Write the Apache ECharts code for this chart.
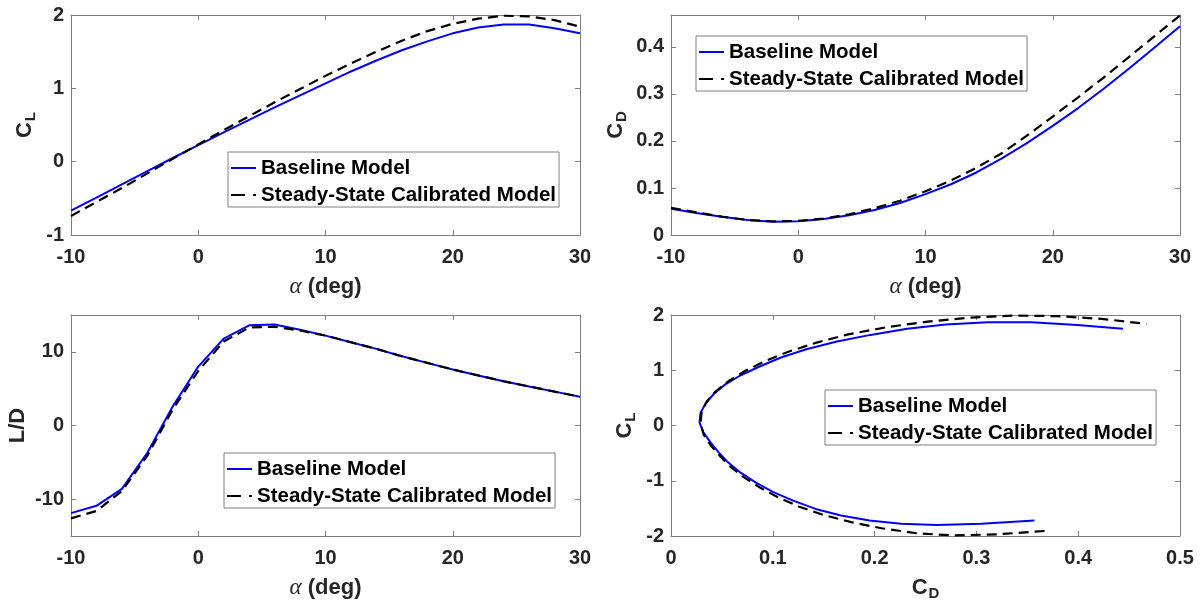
<!DOCTYPE html>
<html>
<head>
<meta charset="utf-8">
<script src="https://cdn.jsdelivr.net/npm/echarts@6/dist/echarts.min.js"></script>
<style>
html,body{margin:0;padding:0;background:#fff;}
#main{width:1202px;height:607px;}
</style>
</head>
<body>
<div id="main"></div>
<script>
// ---- data ----
const alpha = [-10,-8,-6,-4,-2,0,2,4,6,8,10,12,14,16,18,20,22,24,26,28,30];
const clBase = [-0.667,-0.49,-0.31,-0.13,0.05,0.227,0.40,0.57,0.74,0.905,1.068,1.23,1.38,1.52,1.64,1.75,1.83,1.87,1.87,1.82,1.75];
const clCal  = [-0.74,-0.55,-0.36,-0.16,0.04,0.235,0.43,0.62,0.81,0.99,1.17,1.34,1.50,1.65,1.78,1.88,1.95,1.99,1.98,1.93,1.84];
const cdBase = [0.056,0.047,0.039,0.032,0.028,0.029,0.034,0.042,0.053,0.068,0.087,0.108,0.133,0.163,0.196,0.232,0.270,0.311,0.354,0.399,0.444];
const cdCal  = [0.058,0.048,0.039,0.032,0.029,0.030,0.035,0.044,0.057,0.073,0.093,0.116,0.143,0.174,0.212,0.252,0.293,0.335,0.379,0.423,0.467];
const ldBase = [-11.9,-10.9,-8.6,-3.7,2.6,8.0,11.8,13.6,13.7,13.0,12.2,11.3,10.4,9.4,8.5,7.6,6.8,6.0,5.3,4.6,3.9];
const ldCal  = [-12.6,-11.6,-8.9,-4.1,2.2,7.4,11.4,13.3,13.4,12.9,12.2,11.3,10.4,9.4,8.5,7.6,6.8,6.0,5.3,4.6,3.9];
// lower (negative-lift) branch of the drag polar, going outward from alpha = -10
const polarLowCdBase = [0.068,0.083,0.100,0.120,0.142,0.167,0.195,0.226,0.261,0.305,0.357];
const polarLowClBase = [-0.85,-1.03,-1.20,-1.36,-1.51,-1.63,-1.72,-1.78,-1.80,-1.78,-1.72];
const polarLowCdCal  = [0.071,0.087,0.105,0.126,0.150,0.177,0.207,0.241,0.277,0.320,0.367];
const polarLowClCal  = [-0.93,-1.12,-1.30,-1.47,-1.62,-1.75,-1.86,-1.95,-1.99,-1.97,-1.91];
const seriesNames = ['Baseline Model','Steady-State Calibrated Model'];
// axis limits and tick values for the four panels
const xLimits = [[-10,30],[-10,30],[-10,30],[0,0.5]];
const xTicks  = [[-10,0,10,20,30],[-10,0,10,20,30],[-10,0,10,20,30],[0,0.1,0.2,0.3,0.4,0.5]];
const yLimits = [[-1,2],[0,0.468],[-15,15],[-2,2]];
const yTicks  = [[-1,0,1,2],[0,0.1,0.2,0.3,0.4],[-10,0,10],[-2,-1,0,1,2]];

// ---- chart ----
const FONT = "'Liberation Sans', Arial, Helvetica, sans-serif";
const AXC = '#7f7f7f';
const TXT = '#262626';
const grids = [
  {left:71, top:15, width:509, height:220},
  {left:671, top:15, width:509, height:220},
  {left:71, top:315, width:509, height:221},
  {left:671, top:315, width:509, height:221}
];

const alphaName = {
  name:'{a|α}{b| (deg)}',
  nameTextStyle:{rich:{
    a:{fontFamily:"'Liberation Serif','DejaVu Serif',serif",fontStyle:'italic',fontSize:23,color:TXT},
    b:{fontFamily:FONT,fontWeight:'bold',fontSize:22,color:TXT}
  }}
};
function subName(main, sub){
  return {
    name:'{c|'+main+'}{s|'+sub+'}',
    nameTextStyle:{rich:{
      c:{fontFamily:FONT,fontWeight:'bold',fontSize:22,color:TXT},
      s:{fontFamily:FONT,fontWeight:'bold',fontSize:15,color:TXT,padding:[11,0,0,1]}
    }}
  };
}
const xNames = [alphaName, alphaName, alphaName, subName('C','D')];
const xGaps = [40,40,40,39];
const yNames = [subName('C','L'), subName('C','D'), {name:'L/D',nameTextStyle:{fontFamily:FONT,fontWeight:'bold',fontSize:22,color:TXT}}, subName('C','L')];
const yGaps = [33,42,42,33];

const lineCfg = {show:true,onZero:false,lineStyle:{color:AXC,width:1}};
function tickCfg(vals){ return {show:true,inside:true,length:5,customValues:vals,lineStyle:{color:AXC,width:1}}; }
const labelCfg = (vals, margin)=>({show:true,margin,customValues:vals,fontFamily:FONT,fontWeight:'bold',fontSize:20,color:TXT,
  formatter:(v)=>String(+(+v).toFixed(3))});

const xAxis = [], yAxis = [];
for (let i=0;i<4;i++){
  xAxis.push(Object.assign({
    type:'value', gridIndex:i, min:xLimits[i][0], max:xLimits[i][1], position:'bottom',
    splitLine:{show:false}, axisLine:lineCfg, axisTick:tickCfg(xTicks[i]),
    nameLocation:'middle', nameGap:xGaps[i],
    axisLabel:labelCfg(xTicks[i],12)
  }, xNames[i]));
}
for (let i=0;i<4;i++){
  xAxis.push({
    type:'value', gridIndex:i, min:xLimits[i][0], max:xLimits[i][1], position:'top',
    splitLine:{show:false}, axisLabel:{show:false}, axisLine:lineCfg, axisTick:tickCfg(xTicks[i])
  });
}
for (let i=0;i<4;i++){
  yAxis.push(Object.assign({
    type:'value', gridIndex:i, min:yLimits[i][0], max:yLimits[i][1], position:'left',
    splitLine:{show:false}, axisLine:lineCfg, axisTick:tickCfg(yTicks[i]),
    nameLocation:'middle', nameGap:yGaps[i],
    axisLabel:labelCfg(yTicks[i],7)
  }, yNames[i]));
}
for (let i=0;i<4;i++){
  yAxis.push({
    type:'value', gridIndex:i, min:yLimits[i][0], max:yLimits[i][1], position:'right',
    splitLine:{show:false}, axisLabel:{show:false}, axisLine:lineCfg, axisTick:tickCfg(yTicks[i])
  });
}

const pair = (xs, ys) => xs.map((x,i)=>[x, ys[i]]);
const polarBase = pair(polarLowCdBase, polarLowClBase).reverse().concat(pair(cdBase, clBase));
const polarCal  = pair(polarLowCdCal, polarLowClCal).reverse().concat(pair(cdCal, clCal));

const blueStyle = {color:'#0000ff', width:2, type:'solid'};
const dashStyle = {color:'#000000', width:2.2, type:[10,6]};
function mk(name, idx, data, style){
  return {name, type:'line', xAxisIndex:idx, yAxisIndex:idx, data, symbol:'none',
    showSymbol:false, smooth:false, lineStyle:style, itemStyle:{color:style.color},
    emphasis:{disabled:true}, animation:false, clip:true};
}
const series = [
  mk(seriesNames[0],0,pair(alpha,clBase),blueStyle), mk(seriesNames[1],0,pair(alpha,clCal),dashStyle),
  mk(seriesNames[0],1,pair(alpha,cdBase),blueStyle), mk(seriesNames[1],1,pair(alpha,cdCal),dashStyle),
  mk(seriesNames[0],2,pair(alpha,ldBase),blueStyle), mk(seriesNames[1],2,pair(alpha,ldCal),dashStyle),
  mk(seriesNames[0],3,polarBase,blueStyle), mk(seriesNames[1],3,polarCal,dashStyle)
];

const legendPos = [[228,152],[696,36],[224,453],[825,390]];
const legend = legendPos.map(p=>({
  left:p[0], top:p[1], orient:'vertical', itemWidth:25, itemHeight:12, itemGap:3,
  padding:[4,3,0,2], borderColor:'#808080', borderWidth:1, backgroundColor:'#ffffff',
  selectedMode:false,
  itemStyle:{color:'rgba(0,0,0,0)',borderWidth:0,opacity:0},
  textStyle:{fontFamily:FONT,fontWeight:'bold',fontSize:20.5,color:'#000',lineHeight:24},
  data:[{name:seriesNames[0]},{name:seriesNames[1],lineStyle:{type:[14,8]}}]
}));

const chart = echarts.init(document.getElementById('main'), null, {renderer:'canvas'});
chart.setOption({
  animation:false,
  backgroundColor:'#ffffff',
  grid: grids.map(g=>Object.assign({outerBoundsMode:'none',containLabel:false,show:false}, g)),
  xAxis, yAxis, legend, series
});
</script>
</body>
</html>
